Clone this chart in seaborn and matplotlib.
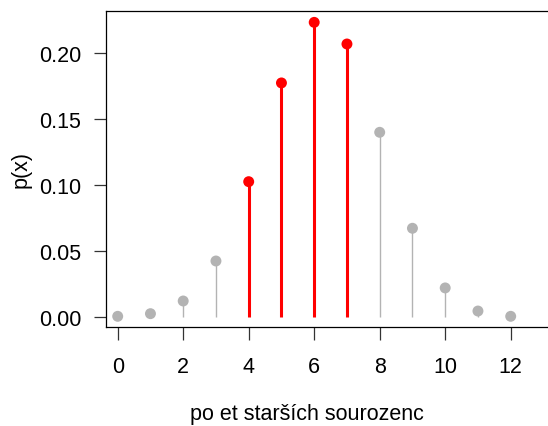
import matplotlib
matplotlib.use("Agg")
import matplotlib.pyplot as plt
import seaborn as sns
import pandas as pd

# data
x_vals = [0, 1, 2, 3, 4, 5, 6, 7, 8, 9, 10, 11, 12]
p_vals = [0.0005, 0.0025, 0.0121, 0.0424, 0.1025, 0.1773, 0.2232,
          0.2068, 0.1399, 0.0672, 0.0220, 0.0045, 0.0005]
highlight = [4, 5, 6, 7]
x_ticks = [0, 2, 4, 6, 8, 10, 12]
y_ticks = [0.00, 0.05, 0.10, 0.15, 0.20]

df = pd.DataFrame({'x': x_vals, 'p': p_vals})
df['sel'] = df['x'].isin(highlight)

sns.set_style("ticks")
plt.rcParams['font.family'] = ['Liberation Sans', 'DejaVu Sans']
plt.rcParams['text.color'] = 'black'
plt.rcParams['axes.labelcolor'] = 'black'

fig = plt.figure(figsize=(5.48, 4.27), dpi=100)
ax = fig.add_axes([106/548, 1 - 328/427, 1 - 106/548, (328 - 12)/427])

grey = '#B3B3B3'
red = '#FF0000'

# stems
rest = df[~df['sel']]
sel = df[df['sel']]
ax.vlines(rest['x'], 0, rest['p'], color=grey, linewidth=1.0)
ax.vlines(sel['x'], 0, sel['p'], color=red, linewidth=2.2)

# points
sns.scatterplot(data=df, x='x', y='p', hue='sel', palette={False: grey, True: red},
                s=62, linewidth=0, legend=False, ax=ax, zorder=3)

ax.set_xlim((106 - 117.7)/32.75, (548 - 117.7)/32.75)
ax.set_ylim(-0.0076, 0.2318)
ax.set_xticks(x_ticks)
ax.set_yticks(y_ticks)
ax.set_yticklabels([f"{v:.2f}" for v in y_ticks])
ax.tick_params(axis='both', labelsize=15.5, length=9, width=0.9, color='#333333',
               labelcolor='black')
ax.tick_params(axis='y', pad=9)
ax.tick_params(axis='x', pad=12)
ax.spines['right'].set_visible(False)
for s in ['left', 'top', 'bottom']:
    ax.spines[s].set_linewidth(0.9)
    ax.spines[s].set_color('black')
ax.set_xlabel('')
ax.set_ylabel('p(x)', fontsize=15.5, labelpad=5)

fig.text(307/548, 1 - 415/427, 'po et starších sourozenc', ha='center', va='center', fontsize=15.5)

plt.savefig("out.png", dpi=100)
